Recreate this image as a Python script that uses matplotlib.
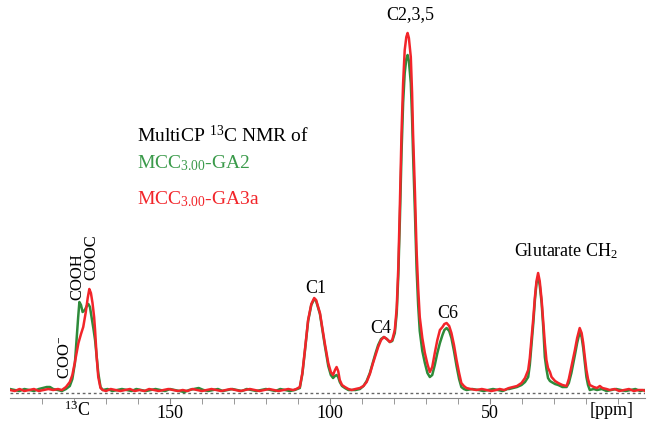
import numpy as np
import matplotlib
matplotlib.use("Agg")
import matplotlib.pyplot as plt

plt.rcParams['font.family'] = ['Liberation Serif', 'DejaVu Serif']
plt.rcParams['mathtext.fontset'] = 'custom'
plt.rcParams['mathtext.rm'] = 'Liberation Serif'
plt.rcParams['mathtext.it'] = 'Liberation Serif:italic'

# MCC3.00-GA3a (red): ppm, intensity
red_ppm = [200, 198.5, 197, 195.5, 194, 192.5, 191, 189.5, 188, 186.5, 185, 183.8, 182.5, 181.3,
           180.5, 179.7, 178.6, 177.8, 177.1, 176.3, 175.7, 175.2, 174.7, 174.2, 173.7, 173.4,
           172.9, 172.4, 171.7, 171, 170, 168.5, 167, 165.5, 164, 162.5, 161, 159.5, 158, 156.5,
           155, 153.5, 152, 150.5, 149, 147.5, 146, 144.5, 143, 141.5, 140, 138.5, 137, 135.5,
           134, 132.5, 131, 129.5, 128, 126.5, 125, 123.5, 122, 120.5, 119, 117.5, 116, 114.5,
           113, 111.5, 110.5, 109.4, 108.6, 107.8, 106.8, 105.8, 104.9, 104.3, 103.1, 101.6,
           100.5, 99.7, 99, 98.4, 97.9, 97.4, 96.9, 96.2, 95.3, 94.2, 93.2, 92, 90.6, 89.5, 88.5,
           87.5, 86.5, 85.7, 84.9, 84, 83.1, 82.2, 81.25, 80.5, 79.7, 79.1, 78.6, 78.1, 77.6,
           77.1, 76.6, 76.1, 75.7, 75.3, 74.7, 74.3, 74, 73.4, 72.9, 72.4, 71.9, 71.1, 70.3,
           69.5, 68.75, 68, 67.2, 66.4, 65.6, 64.8, 64.2, 63.5, 62.7, 62, 61.2, 60.4, 59.6, 58.9,
           58.1, 57.3, 56, 54.2, 52.5, 51, 49.5, 48, 46.9, 45.5, 44, 42.7, 41.5, 40.1, 39, 38,
           37.5, 37, 36.4, 35.9, 35.4, 34.9, 34.4, 33.8, 33.3, 32.8, 32.3, 31.8, 31.2, 30.7, 29.6,
           28.6, 27.3, 26, 25.3, 24.5, 24, 23.4, 22.7, 21.9, 21.3, 20.8, 20.3, 19.8, 19.3, 18.75,
           17.5, 16.5, 15.6, 14.8, 13.5, 12.5, 11, 9.5, 8, 6.5, 5, 3.5, 2, 1.5]
red_int = [3, 2, 4, 2, 3, 4, 2, 3, 4, 3, 4, 3, 6, 11,
           18, 31, 50, 59, 66, 81, 95, 104, 100, 90, 76, 63,
           36, 16, 5, 3, 2, 4, 3, 2, 3, 4, 2, 3, 2, 4,
           3, 2, 3, 4, 3, 2, 3, 2, 4, 3, 2, 3, 4, 3,
           2, 3, 4, 3, 2, 3, 4, 3, 2, 3, 4, 3, 2, 3,
           4, 3, 4, 6, 20, 43, 73, 89, 95, 93, 80, 50,
           30, 21, 18, 23, 26, 22, 13, 8, 6, 4, 3, 4, 5, 7, 11,
           19, 30, 38, 46, 53, 56, 54, 51, 53, 63, 85, 126, 190, 260,
           310, 343, 356, 360, 355, 336, 300, 260, 200, 143, 105, 76, 55, 40,
           29, 21, 26, 40, 53, 63, 66, 69, 70, 67, 60, 48, 33, 20, 10,
           7, 5, 4, 3, 4, 3, 2, 3, 4, 3, 5, 6, 7, 10, 15, 23,
           35, 53, 75, 96, 112, 120, 112, 93, 72, 50, 33, 25, 21, 16, 12,
           10, 8, 7, 14, 26, 34, 43, 55, 65, 60, 50, 36, 23, 14, 8,
           6, 5, 7, 5, 4, 3, 4, 2, 3, 4, 2, 3, 3, 2]

# MCC3.00-GA2 (green)
green_ppm = [200, 198.5, 197, 195.5, 194, 192.5, 191, 189.7, 188.5, 187.5, 186.5, 185, 183.8, 182.5,
             181.3, 180.5, 179.7, 179.2, 178.7, 178.3, 177.8, 177.3, 176.6, 176, 175.5, 175, 174.5,
             173.9, 173.4, 172.9, 172.4, 171.7, 171, 169.5, 168, 166.5, 165, 163.5, 162, 160.5,
             159, 157.5, 156, 154.5, 153, 151.5, 150, 148.5, 147, 145.5, 144, 142.5, 141, 139.5,
             138, 136.5, 135, 133.5, 132, 130.5, 129, 127.5, 126, 124.5, 123, 121.5, 120, 118.5,
             117, 115.5, 114, 112.5, 111, 110.2, 109.4, 108.6, 107.8, 106.8, 105.8, 104.9, 104.3,
             103.1, 101.6, 100.5, 99.7, 99, 98.4, 97.9, 97.4, 96.9, 96.2, 95.3, 94.2, 93.2, 92,
             90.6, 89.5, 88.5, 87.5, 86.5, 85.7, 84.9, 84, 83.1, 82.2, 81.25, 80.5, 79.7, 79.1,
             78.6, 78.1, 77.6, 77.1, 76.6, 76.1, 75.7, 75.3, 74.7, 74.3, 74, 73.4, 72.9, 72.4,
             71.9, 71.1, 70.3, 69.5, 68.75, 68, 67.2, 66.4, 65.6, 64.8, 64.2, 63.5, 62.7, 62, 61.2,
             60.4, 59.6, 58.9, 58.1, 57.3, 55.5, 53.5, 52, 50.5, 49, 47.5, 46, 44.5, 44, 42.7,
             41.5, 40.1, 39, 38, 37.5, 37, 36.4, 35.9, 35.4, 34.9, 34.4, 33.8, 33.3, 32.8, 32.3,
             31.8, 31.2, 30.7, 29.6, 28.6, 27.3, 26, 25.3, 24.5, 24, 23.4, 22.7, 21.9, 21.3, 20.8,
             20.3, 19.8, 19.3, 18.75, 17.5, 16.5, 15, 13.5, 12, 10.5, 9, 7.5, 6, 4.5, 3, 1.5]
green_int = [4, 3, 2, 4, 3, 2, 4, 5, 6, 6, 4, 3, 2, 4,
             7, 14, 30, 53, 75, 91, 88, 81, 83, 87, 89, 86, 76,
             64, 53, 36, 20, 6, 3, 4, 2, 3, 4, 3, 2, 4,
             3, 2, 3, 4, 3, 2, 4, 3, 2, 1, 3, 4, 5, 3,
             2, 3, 4, 2, 3, 4, 3, 2, 4, 3, 2, 3, 4, 3,
             2, 4, 3, 2, 3, 4, 5, 19, 42, 72, 88, 94, 92,
             79, 48, 27, 18, 15, 17, 18, 16, 11, 7, 5, 3, 3, 3,
             4, 7, 12, 20, 31, 40, 48, 54, 56, 54, 51, 52, 60, 80,
             118, 175, 240, 290, 320, 334, 338, 332, 310, 275, 240, 180, 125, 88,
             62, 42, 30, 20, 16, 18, 28, 40, 50, 58, 63, 65, 62, 55, 42,
             27, 14, 6, 4, 3, 4, 3, 2, 3, 4, 3, 2, 4, 4, 5,
             6, 8, 11, 16, 28, 47, 70, 93, 110, 116, 108, 90, 66, 36, 24,
             15, 12, 11, 9, 8, 6, 6, 10, 20, 28, 38, 50, 61, 56, 45,
             30, 16, 8, 3, 4, 3, 4, 2, 3, 4, 3, 2, 3, 4, 2, 3]

red = '#f2252a'
green = '#2e8b3a'

fig = plt.figure(figsize=(6.48, 4.25), dpi=100)
ax = fig.add_axes([0.0154, 0.0635, 0.9799, 0.9365])

ax.axhline(0, color='#666666', lw=1, ls=(0, (2, 2)))
ax.plot(green_ppm, green_int, color=green, lw=1.8)
ax.plot(red_ppm, red_int, color=red, lw=1.8)

ax.set_xlim(200, 1.5)
ax.set_ylim(-5, 393)

for s in ['top', 'left', 'right']:
    ax.spines[s].set_visible(False)
ax.spines['bottom'].set_color('#888888')
ax.set_yticks([])
ax.set_xticks([150, 100, 50])
ax.set_xticks(np.arange(190, 0, -10), minor=True)
ax.tick_params(axis='x', which='both', length=4, color='#888888', labelsize=13, pad=1)

# peak labels
ax.text(75, 378, 'C2,3,5', ha='center', va='center', fontsize=13)
ax.text(104.4, 105, 'C1', ha='center', va='center', fontsize=13)
ax.text(84, 65, 'C4', ha='center', va='center', fontsize=13)
ax.text(63.1, 80, 'C6', ha='center', va='center', fontsize=13)
ax.text(26.2, 142, 'Glutarate CH$_2$', ha='center', va='center', fontsize=13)
ax.text(178.8, 116, 'COOH', ha='center', va='center', rotation=90, fontsize=12)
ax.text(174.4, 136, 'COOC', ha='center', va='center', rotation=90, fontsize=12)
ax.text(182.8, 36, 'COO$^{-}$', ha='center', va='center', rotation=90, fontsize=12)

# legend text
ax.text(160.3, 258, 'MultiCP $^{13}$C NMR of', ha='left', va='center', fontsize=14)
ax.text(160.3, 230, 'MCC$_{3.00}$-GA2', ha='left', va='center', fontsize=14, color='#3a9a4a')
ax.text(160.3, 194, 'MCC$_{3.00}$-GA3a', ha='left', va='center', fontsize=14, color=red)

# axis text
ax.text(179.0, -17, '$^{13}$C', ha='center', va='center', fontsize=13)
ax.text(12, -17, '[ppm]', ha='center', va='center', fontsize=13)

fig.savefig('out.png', dpi=100)
